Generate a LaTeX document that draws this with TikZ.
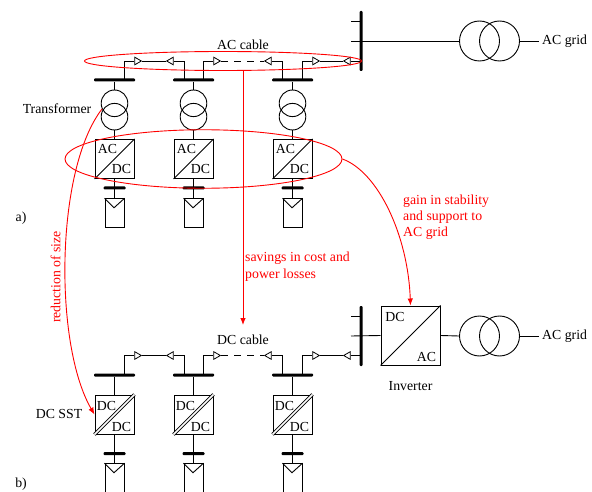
\documentclass[tikz,border=0pt]{standalone}
\usepackage{fontspec}
\setmainfont{Liberation Serif}
\usetikzlibrary{arrows.meta}
\usetikzlibrary{shapes.geometric}
\tikzset{
  lbl/.style={inner sep=0pt,font=\fontsize{13.8}{16}\selectfont},
  redlbl/.style={lbl,text=red,align=left},
  hbus/.style={rectangle,fill=black,rounded corners=1pt,minimum width=41pt,minimum height=3pt,inner sep=0pt},
  sbus/.style={hbus,minimum width=22pt},
  vbus/.style={hbus,minimum width=3pt,minimum height=60pt},
  coil/.style={circle,draw=black,line width=.9pt,minimum size=26.6pt,inner sep=0pt},
  gridcoil/.style={coil,minimum size=40pt},
  conv/.style={rectangle,draw=black,line width=1pt,minimum size=39pt,inner sep=0pt},
  panel/.style={rectangle,draw=black,line width=1pt,minimum width=19pt,minimum height=29pt,inner sep=0pt},
  tipr/.style={isosceles triangle,isosceles triangle apex angle=60,draw=black,fill=white,line width=.8pt,minimum height=6.5pt,minimum width=6.5pt,inner sep=0pt},
  tipl/.style={tipr,shape border rotate=180},
  wire/.style={draw=black,line width=.9pt},
  twin/.style={draw=black,line width=.9pt,double,double distance=1.7pt},
  redline/.style={draw=red,line width=.9pt},
  redarrow/.style={redline,-{Latex[length=7pt,width=5.5pt]}}
}
\begin{document}
\begin{tikzpicture}[x=1pt,y=-1pt]
\clip (0,0) rectangle (592,492);
% upper part
\node(AG) at (361,41) [vbus]{};
\coordinate(AS1) at (351,21);
\coordinate(AS2) at (351,41);
\node(AGC1) at (479.5,41) [gridcoil]{};
\node(AGC2) at (499.5,41) [gridcoil]{};
\node(AGT) at (542,41) [lbl,anchor=west]{AC grid};
\coordinate(AGE) at (539,41);
\node(AB1) at (114.5,80) [hbus]{};
\node(AB2) at (193.5,80) [hbus]{};
\node(AB3) at (292.5,80) [hbus]{};
\coordinate(AF1) at (124,80);
\coordinate(AF2) at (184,80);
\coordinate(AF3) at (203,80);
\coordinate(AF4) at (282,80);
\coordinate(AF5) at (302,80);
\node(AT1) at (137,61) [tipr]{};
\node(AT2) at (171,61) [tipl]{};
\node(AT3) at (216,61) [tipr]{};
\node(AT4) at (269,61) [tipl]{};
\node(AT5) at (315,61) [tipr]{};
\node(AT6) at (348,61) [tipl]{};
\coordinate(AE) at (361,61);
\node(AU1) at (114.5,103.3) [coil]{};
\node(AL1) at (114.5,116.7) [coil]{};
\node(AU2) at (193.5,103.3) [coil]{};
\node(AL2) at (193.5,116.7) [coil]{};
\node(AU3) at (292.5,103.3) [coil]{};
\node(AL3) at (292.5,116.7) [coil]{};
\node(AC1) at (114.5,159) [conv]{};
\node(AC2) at (193.5,159) [conv]{};
\node(AC3) at (292.5,159) [conv]{};
\node(AX1) at (107.5,149) [lbl]{AC};
\node(AY1) at (121.5,169) [lbl]{DC};
\node(AX2) at (186.5,149) [lbl]{AC};
\node(AY2) at (200.5,169) [lbl]{DC};
\node(AX3) at (285.5,149) [lbl]{AC};
\node(AY3) at (299.5,169) [lbl]{DC};
\node(AD1) at (114.5,188) [sbus]{};
\node(AD2) at (193.5,188) [sbus]{};
\node(AD3) at (292.5,188) [sbus]{};
\node(AP1) at (114.5,213.3) [panel]{};
\node(AP2) at (193.5,213.3) [panel]{};
\node(AP3) at (292.5,213.3) [panel]{};
\draw[wire] (AS1) -- (AS1 -| AG);
\draw[wire] (AS2) -- (AGC1.west);
\draw[wire] (AGC2.east) -- (AGE);
\draw[wire] (AF1) |- (AT1.west);
\draw[wire] (AT1.east) -- (AT2.west);
\draw[wire] (AT2.east) -| (AF2);
\draw[wire] (AF3) |- (AT3.west);
\draw[wire,dash pattern=on 7pt off 6pt] (AT3.east) -- (AT4.west);
\draw[wire] (AT4.east) -| (AF4);
\draw[wire] (AF5) |- (AT5.west);
\draw[wire] (AT5.east) -- (AT6.west);
\draw[wire] (AT6.east) -- (AE);
\draw[wire] (AB1) -- (AU1.north);
\draw[wire] (AB2) -- (AU2.north);
\draw[wire] (AB3) -- (AU3.north);
\draw[wire] (AL1.south) -- (AC1.north);
\draw[wire] (AL2.south) -- (AC2.north);
\draw[wire] (AL3.south) -- (AC3.north);
\draw[wire] (AC1.south) -- (AP1.north);
\draw[wire] (AC2.south) -- (AP2.north);
\draw[wire] (AC3.south) -- (AP3.north);
\draw[wire] (AC1.south west) -- (AC1.north east);
\draw[wire] (AC2.south west) -- (AC2.north east);
\draw[wire] (AC3.south west) -- (AC3.north east);
\draw[wire] (AP1.north west) -- ++(9.5,9.5) -- (AP1.north east);
\draw[wire] (AP2.north west) -- ++(9.5,9.5) -- (AP2.north east);
\draw[wire] (AP3.north west) -- ++(9.5,9.5) -- (AP3.north east);
% lower part
\node(BG) at (361,336) [vbus]{};
\coordinate(BS1) at (351,316);
\coordinate(BS2) at (351,336);
\node(IV) at (410.5,335.5) [conv,minimum size=59pt]{};
\node(IX) at (395,316.5) [lbl]{DC};
\node(IY) at (426.5,356.5) [lbl]{AC};
\node(IT) at (410.5,386) [lbl]{Inverter};
\node(BGC1) at (479.5,336) [gridcoil]{};
\node(BGC2) at (499.5,336) [gridcoil]{};
\node(BGT) at (542,336) [lbl,anchor=west]{AC grid};
\coordinate(BGE) at (539,336);
\node(BB1) at (114.5,375) [hbus]{};
\node(BB2) at (193.5,375) [hbus]{};
\node(BB3) at (292.5,375) [hbus]{};
\coordinate(BF1) at (124,375);
\coordinate(BF2) at (184,375);
\coordinate(BF3) at (203,375);
\coordinate(BF4) at (282,375);
\coordinate(BF5) at (302,375);
\node(BT1) at (137,355.5) [tipr]{};
\node(BT2) at (171,355.5) [tipl]{};
\node(BT3) at (216,355.5) [tipr]{};
\node(BT4) at (269,355.5) [tipl]{};
\node(BT5) at (315,355.5) [tipr]{};
\node(BT6) at (348,355.5) [tipl]{};
\coordinate(BE) at (361,355.5);
\node(BC1) at (114.5,414.5) [conv]{};
\node(BC2) at (193.5,414.5) [conv]{};
\node(BC3) at (292.5,414.5) [conv]{};
\node(BX1) at (106.5,405.5) [lbl]{DC};
\node(BY1) at (121.5,426.5) [lbl]{DC};
\node(BX2) at (185.5,405.5) [lbl]{DC};
\node(BY2) at (200.5,426.5) [lbl]{DC};
\node(BX3) at (284.5,405.5) [lbl]{DC};
\node(BY3) at (299.5,426.5) [lbl]{DC};
\node(BD1) at (114.5,453.7) [sbus]{};
\node(BD2) at (193.5,453.7) [sbus]{};
\node(BD3) at (292.5,453.7) [sbus]{};
\node(BP1) at (114.5,483.7) [panel,minimum height=40pt]{};
\node(BP2) at (193.5,483.7) [panel,minimum height=40pt]{};
\node(BP3) at (292.5,483.7) [panel,minimum height=40pt]{};
\draw[wire] (BS1) -- (BS1 -| BG);
\draw[wire] (BS2) -- (IV.west);
\draw[wire] (IV.east) -- (BGC1.west);
\draw[wire] (BGC2.east) -- (BGE);
\draw[wire] (IV.south west) -- (IV.north east);
\draw[wire] (BF1) |- (BT1.west);
\draw[wire] (BT1.east) -- (BT2.west);
\draw[wire] (BT2.east) -| (BF2);
\draw[wire] (BF3) |- (BT3.west);
\draw[wire,dash pattern=on 7pt off 6pt] (BT3.east) -- (BT4.west);
\draw[wire] (BT4.east) -| (BF4);
\draw[wire] (BF5) |- (BT5.west);
\draw[wire] (BT5.east) -- (BT6.west);
\draw[wire] (BT6.east) -- (BE);
\draw[wire] (BB1) -- (BC1.north);
\draw[wire] (BB2) -- (BC2.north);
\draw[wire] (BB3) -- (BC3.north);
\draw[wire] (BC1.south) -- (BP1.north);
\draw[wire] (BC2.south) -- (BP2.north);
\draw[wire] (BC3.south) -- (BP3.north);
\draw[twin] (BC1.south west) -- (BC1.north east);
\draw[twin] (BC2.south west) -- (BC2.north east);
\draw[twin] (BC3.south west) -- (BC3.north east);
\draw[wire] (BP1.north west) -- ++(9.5,9.5) -- (BP1.north east);
\draw[wire] (BP2.north west) -- ++(9.5,9.5) -- (BP2.north east);
\draw[wire] (BP3.north west) -- ++(9.5,9.5) -- (BP3.north east);
% texts
\node(AT) at (243,45) [lbl]{AC cable};
\node(BT) at (243,340) [lbl]{DC cable};
\node(TR) at (57,109) [lbl]{Transformer};
\node(SST) at (59,414) [lbl]{DC SST};
\node(LA) at (21,218) [lbl]{a)};
\node(LB) at (21,484) [lbl]{b)};
% red marks
\node(EA) at (223,61) [ellipse,redline,minimum width=277pt,minimum height=19pt,inner sep=0pt]{};
\node(EB) at (203.5,159) [ellipse,redline,minimum width=277pt,minimum height=58.5pt,inner sep=0pt]{};
\coordinate(SA) at (243,70.5);
\coordinate(SB) at (243,325);
\coordinate(RS) at (102,109);
\draw[redarrow] (SA) -- (SB);
\draw[redarrow] (EB.east) .. controls (378,172) and (408,235) .. (IV.north);
\draw[redarrow] (RS) .. controls (55,170) and (54,345) .. (BC1.west);
\node(TS) at (245,258) [redlbl,anchor=west]{savings in cost and};
\node(TS2) at (245,275) [redlbl,anchor=west]{power losses};
\node(TG) at (403,201) [redlbl,anchor=west]{gain in stability};
\node(TG2) at (403,217) [redlbl,anchor=west]{and support to};
\node(TG3) at (403,233) [redlbl,anchor=west]{AC grid};
\node(TR2) at (55.5,277) [redlbl,rotate=90]{reduction of size};
\end{tikzpicture}
\end{document}
